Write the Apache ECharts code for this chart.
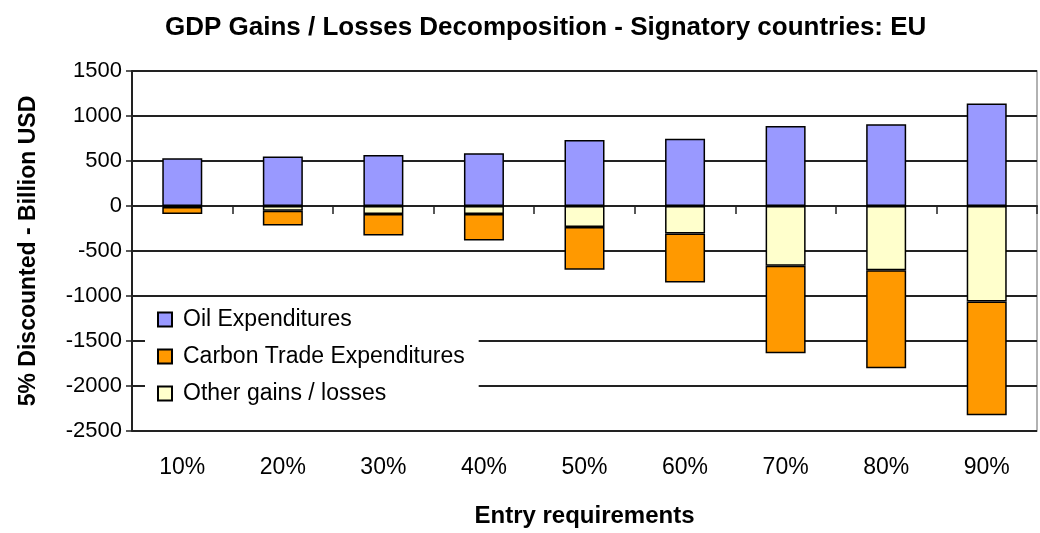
<!DOCTYPE html>
<html>
<head>
<meta charset="utf-8">
<script src="https://cdn.jsdelivr.net/npm/echarts@6/dist/echarts.min.js"></script>
<style>
  html, body { margin: 0; padding: 0; background: #fff; }
  #myChart { width: 1040px; height: 533px; }
</style>
</head>
<body>
<div id="myChart"></div>
<script>
// categories and values
const categories = ['10%', '20%', '30%', '40%', '50%', '60%', '70%', '80%', '90%'];
const oilExpenditures = [530, 549, 567, 586, 733, 748, 890, 909, 1138];
const otherGainsLosses = [-10, -52, -88, -88, -232, -306, -664, -715, -1060];
const carbonTradeExpenditures = [-78, -166, -240, -295, -475, -545, -973, -1087, -1265];

const font = 'Liberation Sans, Arial, sans-serif';

const myChart = echarts.init(document.getElementById('myChart'));

function barSeries (name, color, data) {
  return {
    name: name,
    type: 'bar',
    stack: 'total',
    barWidth: 40,
    xAxisIndex: 0,
    itemStyle: {
      color: color,
      borderColor: '#000',
      borderWidth: 1.5
    },
    data: data
  };
}

myChart.setOption({
  animation: false,
  textStyle: { fontFamily: font },
  title: {
    text: 'GDP Gains / Losses Decomposition - Signatory countries: EU',
    left: 160,
    top: 10,
    textStyle: { fontFamily: font, fontSize: 26, fontWeight: 'bold', color: '#000' }
  },
  grid: {
    left: 132,
    right: 3,
    top: 71,
    bottom: 100,
    show: true,
    borderColor: '#999',
    borderWidth: 1.5
  },
  legend: {
    orient: 'vertical',
    left: 145,
    top: 300,
    icon: 'rect',
    itemWidth: 14,
    itemHeight: 14,
    itemGap: 14,
    padding: [8, 14, 8, 12],
    backgroundColor: '#fff',
    data: ['Oil Expenditures', 'Carbon Trade Expenditures', 'Other gains / losses'],
    textStyle: { fontFamily: font, fontSize: 23, color: '#000', padding: [0, 0, 0, 6] }
  },
  xAxis: [
    {
      type: 'category',
      data: categories,
      axisLine: { onZero: true, lineStyle: { color: '#222', width: 2 } },
      axisTick: { show: true, length: 8, lineStyle: { color: '#222', width: 1.5 } },
      axisLabel: { show: false }
    },
    {
      type: 'category',
      data: categories,
      position: 'bottom',
      axisLine: { show: false },
      axisTick: { show: false },
      axisLabel: { fontFamily: font, fontSize: 23, color: '#000', margin: 25 },
      name: 'Entry requirements',
      nameLocation: 'middle',
      nameGap: 73,
      nameTextStyle: { fontFamily: font, fontSize: 24, fontWeight: 'bold', color: '#000' }
    }
  ],
  yAxis: {
    type: 'value',
    min: -2500,
    max: 1500,
    interval: 500,
    name: '5% Discounted - Billion USD',
    nameLocation: 'middle',
    nameGap: 92,
    nameTextStyle: { fontFamily: font, fontSize: 23, fontWeight: 'bold', color: '#000' },
    axisLine: { show: true, lineStyle: { color: '#222', width: 2 } },
    axisTick: { show: true, length: 6, lineStyle: { color: '#222', width: 1.5 } },
    axisLabel: {
      fontFamily: font,
      fontSize: 22,
      color: '#000',
      margin: 10,
      formatter: function (v) { return String(v); }
    },
    splitLine: { lineStyle: { color: '#222', width: 2 } }
  },
  series: [
    barSeries('Oil Expenditures', '#9999ff', oilExpenditures),
    barSeries('Other gains / losses', '#ffffcc', otherGainsLosses),
    barSeries('Carbon Trade Expenditures', '#ff9900', carbonTradeExpenditures)
  ]
});

window.addEventListener('resize', function () {
  myChart.resize();
});
</script>
</body>
</html>
